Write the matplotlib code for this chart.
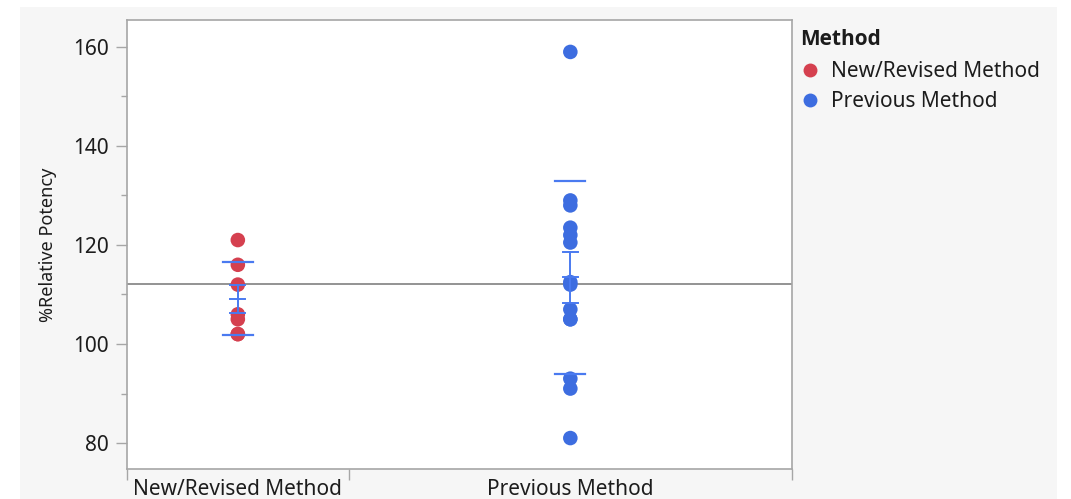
import numpy as np
import matplotlib
matplotlib.use("Agg")
import matplotlib.pyplot as plt
from matplotlib.lines import Line2D

plt.rcParams['font.family'] = ['Noto Sans', 'DejaVu Sans']

methods = ["New/Revised Method", "Previous Method"]
colors = ["#d5404f", "#3d6de0"]
new_revised = [121, 116, 112, 106, 105, 102, 102]
previous = [159, 129, 128, 123.5, 122, 120.5, 112.5, 112, 107, 105, 105, 93, 91, 81]
groups = [new_revised, previous]

err_color = "#4a7af0"
text_color = "#1c1c1c"
frame_color = "#a6a6a6"

fig = plt.figure(figsize=(10.71, 4.99), dpi=100, facecolor="white")

# light grey panel behind everything
bg = fig.add_axes([20 / 1071, 0, 1037 / 1071, 1 - 7 / 499], zorder=-5)
bg.set_axis_off()
bg.add_patch(plt.Rectangle((0, 0), 1, 1, transform=bg.transAxes, color="#f6f6f6"))

ax = fig.add_axes([127 / 1071, 30 / 499, 665 / 1071, 449 / 499], zorder=1)
ax.set_facecolor("white")

# category widths follow group sizes
counts = np.array([len(g) for g in groups])
edges = np.concatenate([[0], np.cumsum(counts)])
centers = edges[:-1] + counts / 2

for g, c, xc in zip(groups, colors, centers):
    vals = np.array(g, dtype=float)
    ax.scatter(np.full(len(vals), xc), vals, s=110, color=c, edgecolors="none", zorder=3)
    m = vals.mean()
    sd = vals.std(ddof=1)
    se = sd / np.sqrt(len(vals))
    # mean +/- sd lines
    for y in (m - sd, m + sd):
        ax.plot([xc - 0.47, xc + 0.47], [y, y], color=err_color, lw=1.6, zorder=4)
    # mean with standard error bars
    ax.plot([xc, xc], [m - se, m + se], color=err_color, lw=1.4, zorder=4)
    for y in (m - se, m, m + se):
        ax.plot([xc - 0.24, xc + 0.24], [y, y], color=err_color, lw=1.4, zorder=4)

grand = np.concatenate([np.array(g, dtype=float) for g in groups]).mean()
ax.axhline(grand, color="#808080", lw=1.2, zorder=2)

ax.set_xlim(edges[0], edges[-1])
ax.set_ylim(74.75, 165.45)

ax.set_yticks([80, 100, 120, 140, 160])
ax.set_yticks([90, 110, 130, 150], minor=True)
ax.tick_params(axis="y", which="major", length=8, width=1, color=frame_color,
               labelsize=15, labelcolor=text_color, pad=5)
ax.tick_params(axis="y", which="minor", length=4, width=1, color=frame_color)

ax.set_xticks(centers)
ax.set_xticklabels(methods)
ax.set_xticks(edges, minor=True)
ax.tick_params(axis="x", which="major", length=0, labelsize=15, labelcolor=text_color, pad=7)
ax.tick_params(axis="x", which="minor", length=8, width=1, color=frame_color)

for s in ax.spines.values():
    s.set_color(frame_color)
    s.set_linewidth(1.2)

ax.set_ylabel("%Relative Potency", fontsize=13, color=text_color, labelpad=12)

handles = [Line2D([], [], ls="none", marker="o", markersize=10, markerfacecolor=c,
                  markeredgecolor="none") for c in colors]
leg = fig.legend(handles, methods, loc="upper left", bbox_to_anchor=(800 / 1071, 1 - 29 / 499),
                 frameon=False, title="Method", alignment="left", fontsize=15,
                 title_fontproperties={"family": "Open Sans", "weight": "bold", "size": 15},
                 handlelength=1.0, handletextpad=0.5, labelspacing=0.45, borderpad=0,
                 borderaxespad=0)
leg._legend_box.sep = 8
leg.get_title().set_color(text_color)
for t in leg.get_texts():
    t.set_color(text_color)

fig.savefig("out.png", dpi=100, facecolor="white")
